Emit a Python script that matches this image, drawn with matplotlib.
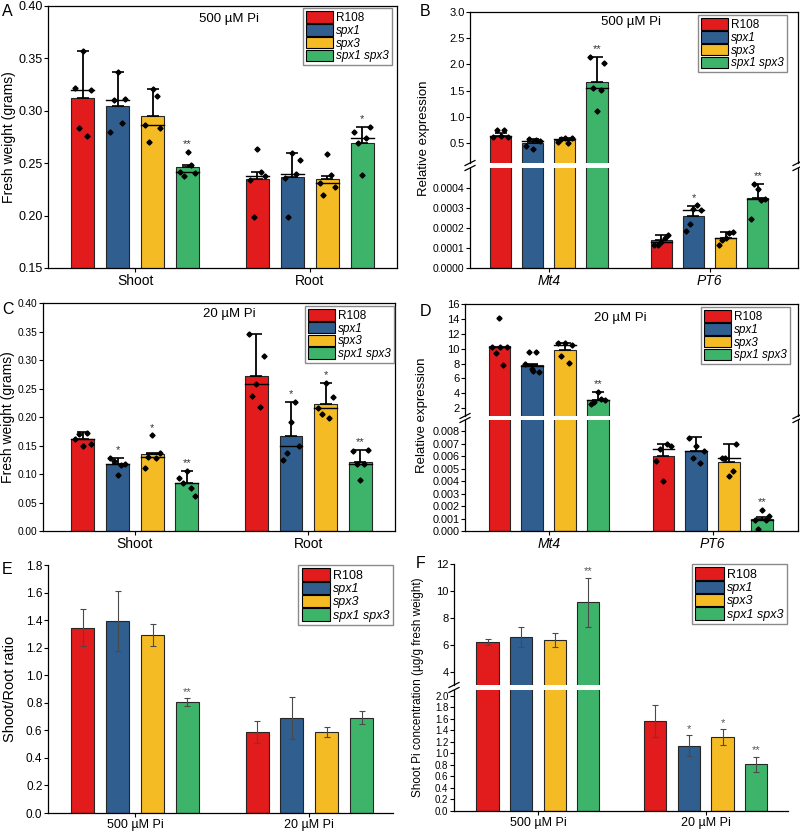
import numpy as np
import matplotlib.pyplot as plt
from matplotlib.patches import Patch
from matplotlib.lines import Line2D
from matplotlib.ticker import FormatStrFormatter

plt.rcParams['font.family'] = ['Liberation Sans', 'DejaVu Sans']
plt.rcParams['font.size'] = 9

# ------------------------------
# data
# ------------------------------
genotypes = ["R108", "spx1", "spx3", "spx1 spx3"]
colors = ["#E21B1C", "#2F5E8F", "#F5BB24", "#3EB46A"]

# A: fresh weight, 500 uM Pi
a_groups = ["Shoot", "Root"]
a_means = [[0.312, 0.305, 0.295, 0.246], [0.235, 0.237, 0.235, 0.269]]
a_caps = [[0.357, 0.337, 0.321, 0.248], [0.2415, 0.260, 0.238, 0.285]]
a_points = [
    [[0.357, 0.322, 0.320, 0.284, 0.276],
     [0.337, 0.280, 0.3117, 0.310, 0.288],
     [0.321, 0.286, 0.284, 0.270, 0.314],
     [0.2605, 0.2412, 0.241, 0.238, 0.2482]],
    [[0.2637, 0.234, 0.2374, 0.199, 0.2415],
     [0.2596, 0.2358, 0.2532, 0.1986, 0.2396],
     [0.259, 0.231, 0.2269, 0.2193, 0.2383],
     [0.2383, 0.2796, 0.285, 0.2688, 0.2739]],
]
a_stars = [["", "", "", "**"], ["", "", "", "*"]]

# B: relative expression, 500 uM Pi
b_groups = ["Mt4", "PT6"]
b_means = [[0.64, 0.50, 0.56, 1.67], [0.000142, 0.000258, 0.000152, 0.000348]]
b_caps = [[0.70, 0.58, 0.60, 2.14], [0.000167, 0.000308, 0.000178, 0.000422]]
b_points = [
    [[0.63, 0.61, 0.62, 0.74, 0.74],
     [0.39, 0.44, 0.54, 0.58, 0.56],
     [0.595, 0.53, 0.60, 0.58, 0.50],
     [1.104, 2.14, 2.03, 1.556, 1.518]],
    [[0.000128, 0.000113, 0.000167, 0.000117, 0.000150],
     [0.000295, 0.000183, 0.000288, 0.000222, 0.000313],
     [0.000150, 0.000113, 0.000180, 0.000142, 0.000175],
     [0.000397, 0.000245, 0.000345, 0.000422, 0.000340]],
]
b_stars = [["", "", "", "**"], ["", "*", "", "**"]]

# C: fresh weight, 20 uM Pi
c_means = [[0.161, 0.1167, 0.135, 0.0845], [0.2727, 0.166, 0.223, 0.1208]]
c_caps = [[0.173, 0.128, 0.137, 0.1056], [0.3455, 0.227, 0.2592, 0.1425]]
c_points = [
    [[0.149, 0.161, 0.1525, 0.1695, 0.1724],
     [0.0991, 0.1284, 0.1167, 0.1226, 0.1155],
     [0.1677, 0.1108, 0.1372, 0.1302, 0.1273],
     [0.1056, 0.0927, 0.0616, 0.085, 0.0757]],
    [[0.258, 0.3455, 0.3073, 0.2364, 0.2182],
     [0.1918, 0.1238, 0.1496, 0.136, 0.227],
     [0.2592, 0.2164, 0.2358, 0.2047, 0.1977],
     [0.0891, 0.1402, 0.1425, 0.1173, 0.1167]],
]
c_stars = [["", "*", "*", "**"], ["", "*", "*", "**"]]

# D: relative expression, 20 uM Pi
d_means = [[10.35, 7.78, 9.81, 3.13], [0.00602, 0.0064, 0.00554, 0.00096]]
d_caps = [[10.35, 8.0, 10.7, 4.17], [0.00696, 0.0075, 0.00696, 0.00112]]
d_points = [
    [[14.1, 10.2, 10.2, 9.45, 7.87, 10.2],
     [7.3, 8.0, 6.8, 9.5, 9.5, 7.0],
     [10.72, 10.72, 10.5, 9.0, 8.1],
     [4.17, 2.54, 3.04, 2.77, 3.27]],
    [[0.00401, 0.00565, 0.00682, 0.0066, 0.00696],
     [0.0068, 0.00749, 0.0064, 0.00586, 0.00546],
     [0.00439, 0.00586, 0.00696, 0.00586, 0.00482],
     [0.00171, 0.00091, 0.0012, 0.00019, 0.00091]],
]
d_stars = [["", "", "", "**"], ["", "", "", "**"]]

# E: shoot/root ratio
ef_groups = ["500 µM Pi", "20 µM Pi"]
e_means = [[1.345, 1.394, 1.292, 0.805], [0.591, 0.688, 0.591, 0.693]]
e_err = [[0.135, 0.215, 0.08, 0.028], [0.08, 0.153, 0.036, 0.05]]
e_stars = [["", "", "", "**"], ["", "", "", ""]]

# F: shoot Pi concentration
f_means = [[6.19, 6.56, 6.34, 9.14], [1.56, 1.136, 1.28, 0.81]]
f_err = [[0.25, 0.74, 0.53, 1.85], [0.28, 0.18, 0.14, 0.13]]
f_stars = [["", "", "", "**"], ["", "*", "*", "**"]]

# ------------------------------
# layout helpers
# ------------------------------
W, H = 800, 833
group_x = [0, 5]
offsets = [-1.5, -0.5, 0.5, 1.5]
bar_w = 0.66
jitter = np.array([0.0, -0.22, 0.22, -0.11, 0.11, 0.03])

fig = plt.figure(figsize=(W / 100, H / 100), dpi=100)


def px_axes(left, top, right, bottom):
    return fig.add_axes([left / W, 1 - bottom / H, (right - left) / W, (bottom - top) / H])


def style_axes(ax, box=True, ysize=8.5):
    for s in ax.spines.values():
        s.set_linewidth(0.9)
    if not box:
        ax.spines["top"].set_visible(False)
        ax.spines["right"].set_visible(False)
    ax.tick_params(direction="out", length=3, width=0.8, pad=1.5,
                   top=False, right=False)
    ax.tick_params(axis="y", labelsize=ysize, pad=1)


def set_groups(ax, labels, italic=False, xlim=(-2.5, 7.5), fs=10):
    ax.set_xlim(*xlim)
    ax.set_xticks(group_x)
    ax.set_xticklabels(labels, fontsize=fs, style="italic" if italic else "normal")


def add_legend(ax, anchor, fs=8.5):
    handles = [Patch(facecolor=c, edgecolor="black", linewidth=0.8) for c in colors]
    leg = ax.legend(handles, genotypes, loc="upper right", bbox_to_anchor=anchor,
                    borderaxespad=0, fancybox=False, edgecolor="#8a8a8a", framealpha=1,
                    handlelength=2.3, handleheight=1.15, labelspacing=0.0,
                    handletextpad=0.25, borderpad=0.25, fontsize=fs)
    leg.get_frame().set_linewidth(1.0)
    for i, t in enumerate(leg.get_texts()):
        if i > 0:
            t.set_fontstyle("italic")
    return leg


def dot_bars(ax, means, caps, points, stars):
    for g, gx in enumerate(group_x):
        for i in range(4):
            x = gx + offsets[i]
            m = means[g][i]
            pts = points[g][i]
            ax.bar(x, m, width=bar_w, color=colors[i], edgecolor="#262626",
                   linewidth=0.8, zorder=2)
            if caps[g][i] > m:
                ax.errorbar(x, m, yerr=[[0], [caps[g][i] - m]], fmt="none",
                            ecolor="black", elinewidth=1.3, capsize=4.5,
                            capthick=1.2, zorder=3)
            med = np.median(pts)
            ax.plot([x - bar_w / 2, x + bar_w / 2], [med, med], color="black",
                    lw=1.0, zorder=3)
            ax.plot(x + jitter[:len(pts)], pts, "D", ms=2.6, color="black", zorder=4)
            if stars[g][i]:
                top = max(max(pts), caps[g][i])
                ax.annotate(stars[g][i], (x, top), xytext=(0, 2),
                            textcoords="offset points", ha="center", va="bottom",
                            fontsize=8, color="#333333", annotation_clip=True)


def err_bars(ax, means, errs, stars):
    for g, gx in enumerate(group_x):
        for i in range(4):
            x = gx + offsets[i]
            m = means[g][i]
            e = errs[g][i]
            ax.bar(x, m, width=bar_w, color=colors[i], edgecolor="#262626",
                   linewidth=0.8, zorder=2)
            ax.errorbar(x, m, yerr=e, fmt="none", ecolor="#4a4a4a", elinewidth=0.8,
                        capsize=2.5, capthick=0.8, zorder=3)
            if stars[g][i]:
                ax.annotate(stars[g][i], (x, m + e), xytext=(0, 1),
                            textcoords="offset points", ha="center", va="bottom",
                            fontsize=8, color="#555555", annotation_clip=True)


def break_marks(x_px, y1_px, y2_px):
    for y in (y1_px, y2_px):
        fig.add_artist(Line2D([(x_px - 5) / W, (x_px + 5) / W],
                              [1 - (y + 2.5) / H, 1 - (y - 2.5) / H],
                              color="black", lw=0.9))


def broken_pair(left, top, gap_top, gap_bot, bottom, right, box=True, ysizes=(8, 8)):
    up = px_axes(left, top, right, gap_top)
    lo = px_axes(left, gap_bot, right, bottom)
    style_axes(up, box, ysizes[0])
    style_axes(lo, box, ysizes[1])
    up.spines["bottom"].set_visible(False)
    lo.spines["top"].set_visible(False)
    up.tick_params(bottom=False, labelbottom=False)
    break_marks(left, gap_top, gap_bot)
    if box:
        break_marks(right, gap_top, gap_bot)
    return up, lo


def letter(x_px, y_px, s):
    fig.text(x_px / W, 1 - y_px / H, s, fontsize=11.5, ha="left", va="top")


def ylabel(x_px, y_px, s, fs=10):
    fig.text(x_px / W, 1 - y_px / H, s, fontsize=fs, rotation=90,
             ha="center", va="center")


# ------------------------------
# A
# ------------------------------
axA = px_axes(48, 6, 397, 268)
style_axes(axA, ysize=9)
dot_bars(axA, a_means, a_caps, a_points, a_stars)
axA.set_ylim(0.15, 0.40)
axA.set_yticks(np.arange(0.15, 0.401, 0.05))
axA.yaxis.set_major_formatter(FormatStrFormatter("%.2f"))
set_groups(axA, a_groups)
axA.text(0.52, 0.975, "500 µM Pi", transform=axA.transAxes, ha="center", va="top", fontsize=9.5)
add_legend(axA, (0.986, 0.992))
letter(2, 4, "A")
ylabel(9, 137, "Fresh weight (grams)")

# ------------------------------
# B
# ------------------------------
bU, bL = broken_pair(470, 12, 163, 168, 268, 798, ysizes=(8, 7.5))
for ax in (bU, bL):
    dot_bars(ax, b_means, b_caps, b_points, b_stars)
    set_groups(ax, b_groups, italic=True, xlim=(-2.45, 7.75))
bU.set_ylim(0.12, 3.0)
bU.set_yticks(np.arange(0.5, 3.01, 0.5))
bU.yaxis.set_major_formatter(FormatStrFormatter("%.1f"))
bL.set_ylim(0, 0.0005)
bL.set_yticks(np.arange(0, 0.00041, 0.0001))
bL.yaxis.set_major_formatter(FormatStrFormatter("%.4f"))
bU.text(0.49, 0.975, "500 µM Pi", transform=bU.transAxes, ha="center", va="top", fontsize=9.5)
add_legend(bU, (0.966, 0.98))
letter(420, 4, "B")
ylabel(424, 138, "Relative expression", fs=9.5)

# ------------------------------
# C
# ------------------------------
axC = px_axes(43, 303, 395, 531)
style_axes(axC, ysize=7.3)
dot_bars(axC, c_means, c_caps, c_points, c_stars)
axC.set_ylim(0, 0.40)
axC.set_yticks(np.arange(0, 0.401, 0.05))
axC.yaxis.set_major_formatter(FormatStrFormatter("%.2f"))
set_groups(axC, a_groups, xlim=(-2.65, 7.5))
axC.text(0.53, 0.978, "20 µM Pi", transform=axC.transAxes, ha="center", va="top", fontsize=9.5)
add_legend(axC, (0.997, 0.987))
letter(2, 302, "C")
ylabel(8, 417, "Fresh weight (grams)")

# ------------------------------
# D
# ------------------------------
dU, dL = broken_pair(465, 304, 416, 420, 531, 798, ysizes=(8, 7.8))
for ax in (dU, dL):
    dot_bars(ax, d_means, d_caps, d_points, d_stars)
    set_groups(ax, b_groups, italic=True, xlim=(-2.55, 7.6))
dU.set_ylim(0.95, 16)
dU.set_yticks(np.arange(2, 16.1, 2))
dU.yaxis.set_major_formatter(FormatStrFormatter("%d"))
dL.set_ylim(0, 0.0089)
dL.set_yticks(np.arange(0, 0.00801, 0.001))
dL.yaxis.set_major_formatter(FormatStrFormatter("%.3f"))
dU.text(0.465, 0.93, "20 µM Pi", transform=dU.transAxes, ha="center", va="top", fontsize=9.5)
add_legend(dU, (0.976, 0.973))
letter(420, 304, "D")
ylabel(422, 415, "Relative expression", fs=9.5)

# ------------------------------
# E
# ------------------------------
axE = px_axes(48, 565, 393, 813)
style_axes(axE, box=False, ysize=8.5)
err_bars(axE, e_means, e_err, e_stars)
axE.set_ylim(0, 1.8)
axE.set_yticks(np.arange(0, 1.81, 0.2))
axE.yaxis.set_major_formatter(FormatStrFormatter("%.1f"))
set_groups(axE, ef_groups, xlim=(-2.5, 7.4), fs=9)
add_legend(axE, (1.0, 1.0), fs=9)
letter(2, 562, "E")
ylabel(10, 689, "Shoot/Root ratio", fs=10.5)

# ------------------------------
# F
# ------------------------------
fU, fL = broken_pair(454, 564, 685, 690, 811, 788, box=False, ysizes=(8, 7))
for ax in (fU, fL):
    err_bars(ax, f_means, f_err, f_stars)
    set_groups(ax, ef_groups, xlim=(-2.5, 7.45), fs=9)
fU.set_ylim(3, 12)
fU.set_yticks(np.arange(4, 12.1, 2))
fU.yaxis.set_major_formatter(FormatStrFormatter("%d"))
fL.set_ylim(0, 2.1)
fL.set_yticks(np.arange(0, 2.01, 0.2))
fL.yaxis.set_major_formatter(FormatStrFormatter("%.1f"))
add_legend(fU, (0.997, 1.0), fs=9)
letter(416, 556, "F")
ylabel(418, 687, "Shoot Pi concentration (µg/g fresh weight)", fs=8.5)

fig.savefig("out.png", dpi=100)
